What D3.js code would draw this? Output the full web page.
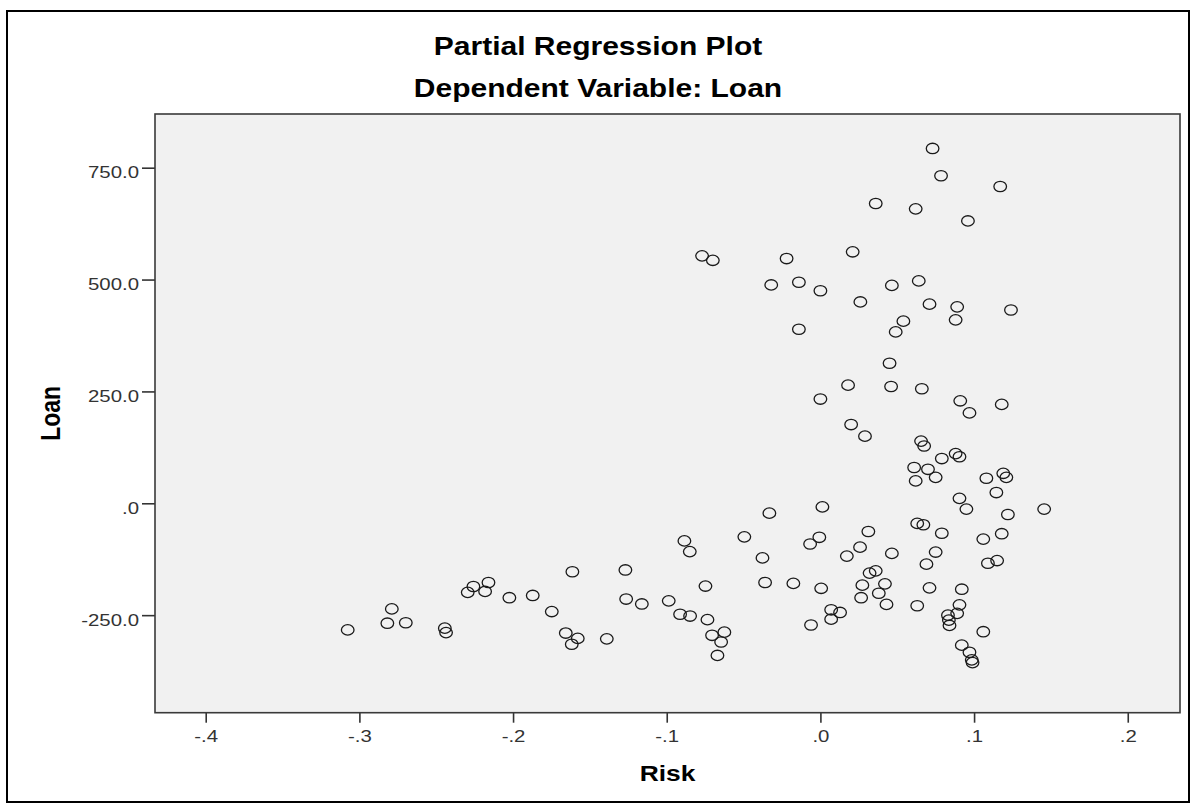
<!DOCTYPE html>
<html>
<head>
<meta charset="utf-8">
<script src="https://cdn.jsdelivr.net/npm/d3@7"></script>
<style>
  html, body { margin: 0; padding: 0; background: #fff; }
  svg { display: block; }
  text { font-family: "Liberation Sans", Arial, sans-serif; }
</style>
</head>
<body>
<svg id="chart" width="1192" height="805"></svg>
<script>
// ---- data ----
const titleLines = ["Partial Regression Plot", "Dependent Variable: Loan"];
const xLabel = "Risk";
const yLabel = "Loan";
const xTicks = [-0.4, -0.3, -0.2, -0.1, 0.0, 0.1, 0.2];
const yTicks = [-250, 0, 250, 500, 750];
const xDomain = [-0.433, 0.234];
const yDomain = [-468, 870];

const risk = [
  0.073, 0.0785, 0.117, 0.036, 0.062, 0.096, -0.077, -0.070, -0.022, 0.021,
  -0.032, -0.014, 0.000, 0.026, 0.0465, 0.064, 0.071, 0.089, 0.088, 0.124,
  -0.014, 0.054, 0.049, 0.045, 0.018, 0.046, 0.066, 0.000, 0.091, 0.097,
  0.118, 0.020, 0.029, 0.0655, 0.0675, 0.079, 0.088, 0.0905, 0.061, 0.070,
  0.075, 0.062, 0.108, 0.119, 0.121, 0.1145, 0.0905, 0.095, 0.1456, 0.122,
  0.063, 0.067, 0.079, 0.0465, 0.075, 0.069, 0.106, 0.118, 0.109, 0.115,
  0.032, 0.036, 0.042, 0.038, 0.043, 0.063, 0.071, 0.092, 0.0905, 0.089,
  0.083, 0.084, 0.0836, 0.106, 0.092, 0.097, 0.0985, 0.099,
  -0.1872, -0.1748, -0.1614, -0.1657, -0.1579, -0.1618, -0.1390, -0.1269, -0.1264, -0.1162,
  -0.0987, -0.0885, -0.0850, -0.0913, -0.0848, -0.0748, -0.0735, -0.0705, -0.0625, -0.0646,
  -0.0670, -0.0495, -0.0332, -0.0377, -0.0360, -0.0176, 0.0013, -0.0067, -0.0007, 0.0005,
  -0.0061, 0.0070, 0.0128, 0.0070, 0.0172, 0.0258, 0.0312, 0.0273, 0.0265,
  -0.3076, -0.2789, -0.2818, -0.2698, -0.2444, -0.2436, -0.2295, -0.2258, -0.2160, -0.2182,
  -0.2024
];
const loan = [
  793, 732, 708, 670, 658, 631, 553, 543, 547, 562,
  488, 494, 475, 450, 487, 497, 445, 439, 410, 432,
  389, 407, 383, 313, 264, 261, 256, 233, 229, 202,
  221, 176, 150, 139, 128, 100, 111, 104, 80, 76,
  58, 50, 56, 67, 58, 24, 11, -13, -13, -25,
  -45, -48, -67, -112, -109, -136, -80, -68, -134, -128,
  -156, -151, -180, -201, -226, -229, -189, -192, -227, -246,
  -250, -273, -261, -287, -317, -333, -350, -356,
  -206, -242, -153, -290, -302, -315, -303, -149, -214, -225,
  -218, -84, -108, -248, -252, -185, -260, -295, -288, -310,
  -340, -75, -22, -122, -177, -179, -8, -91, -76, -190,
  -272, -238, -244, -259, -118, -98, -63, -183, -211,
  -283, -236, -268, -267, -279, -289, -199, -186, -177, -197,
  -211
];

// ---- layout ----
const W = 1192, H = 805;
const plot = { left: 155, right: 1180, top: 114, bottom: 712.7 };
const SX = 1.2; // horizontal stretch of the reference rendering

const svg = d3.select("#chart");

// outer frame
svg.append("rect")
  .attr("x", 7).attr("y", 11).attr("width", 1182).attr("height", 791)
  .attr("fill", "#fff").attr("stroke", "#000").attr("stroke-width", 2);

const x = d3.scaleLinear().domain(xDomain).range([plot.left, plot.right]);
const y = d3.scaleLinear().domain(yDomain).range([plot.bottom, plot.top]);

// plot background
svg.append("rect")
  .attr("x", plot.left).attr("y", plot.top)
  .attr("width", plot.right - plot.left).attr("height", plot.bottom - plot.top)
  .attr("fill", "#f1f1f1");

// SPSS style labels: ".0", "-.1", "-250.0" with an ASCII hyphen
const fmt = v => {
  const s = Math.abs(v).toFixed(1).replace(/^0\./, ".");
  return (v < 0 ? "-" : "") + s;
};

// x axis
const gx = svg.append("g")
  .attr("transform", `translate(0,${plot.bottom})`)
  .call(d3.axisBottom(x).tickValues(xTicks).tickFormat(fmt).tickSize(10).tickSizeOuter(0).tickPadding(7));
gx.select(".domain").remove();
gx.selectAll(".tick line").attr("stroke", "#333").attr("stroke-width", 1.6);
gx.selectAll(".tick text")
  .attr("font-size", 17).attr("fill", "#333")
  .attr("font-family", "Liberation Sans, Arial, sans-serif")
  .attr("transform", `scale(${SX},1)`);

// y axis
const gy = svg.append("g")
  .attr("transform", `translate(${plot.left},0)`)
  .call(d3.axisLeft(y).tickValues(yTicks).tickFormat(fmt).tickSize(13).tickSizeOuter(0).tickPadding(3));
gy.select(".domain").remove();
gy.selectAll(".tick line").attr("stroke", "#333").attr("stroke-width", 1.6);
gy.selectAll(".tick text")
  .attr("font-size", 17).attr("fill", "#333")
  .attr("font-family", "Liberation Sans, Arial, sans-serif")
  .attr("x", -16 / SX)
  .attr("dy", "0.6em")
  .attr("transform", `scale(${SX},1)`);

// plot frame
svg.append("rect")
  .attr("x", plot.left).attr("y", plot.top)
  .attr("width", plot.right - plot.left).attr("height", plot.bottom - plot.top)
  .attr("fill", "none").attr("stroke", "#3a3a3a").attr("stroke-width", 1.6);

// points
const pts = risk.map((r, i) => ({ r, l: loan[i] }));
svg.append("g").selectAll("ellipse")
  .data(pts).join("ellipse")
  .attr("cx", d => x(d.r)).attr("cy", d => y(d.l))
  .attr("rx", 6.3).attr("ry", 5.2)
  .attr("fill", "none").attr("stroke", "#1a1a1a").attr("stroke-width", 1.3);

// titles
const titleX = 598;
[55, 97].forEach((by, i) => {
  svg.append("text")
    .attr("transform", `translate(${titleX},${by}) scale(${SX},1)`)
    .attr("text-anchor", "middle")
    .attr("font-size", 25).attr("font-weight", "bold").attr("fill", "#000")
    .text(titleLines[i]);
});

// axis titles
svg.append("text")
  .attr("transform", `translate(${(plot.left + plot.right) / 2},781) scale(${SX},1)`)
  .attr("text-anchor", "middle")
  .attr("font-size", 22).attr("font-weight", "bold").attr("fill", "#000")
  .text(xLabel);

svg.append("text")
  .attr("transform", `translate(60,${(plot.top + plot.bottom) / 2}) scale(${SX},1) rotate(-90)`)
  .attr("text-anchor", "middle")
  .attr("font-size", 23).attr("font-weight", "bold").attr("fill", "#000")
  .text(yLabel);
</script>
</body>
</html>
